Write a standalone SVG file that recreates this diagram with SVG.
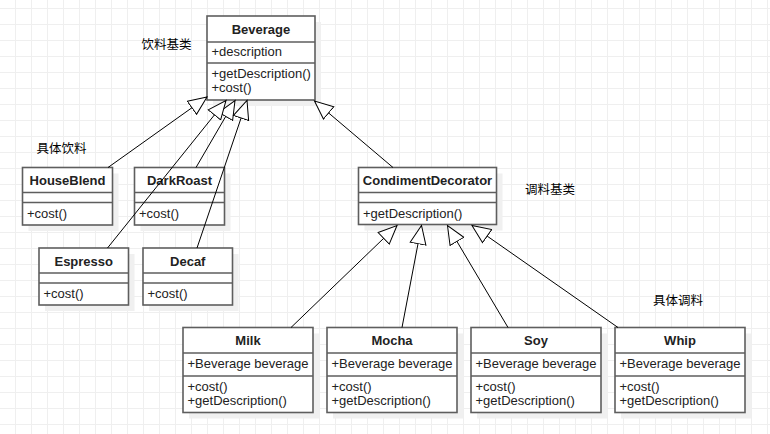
<svg xmlns="http://www.w3.org/2000/svg" width="770" height="434" viewBox="0 0 770 434">
<defs>
  <pattern id="grid" patternUnits="userSpaceOnUse" x="15" y="8" width="16" height="16">
    <path d="M0.5,0 V16 M0,0.5 H16" fill="none" stroke="#efefef" stroke-width="1"/>
  </pattern>
  <marker id="ext" markerUnits="userSpaceOnUse" markerWidth="22" markerHeight="20" refX="19" refY="9" orient="auto">
    <path d="M0.5,1 L19,9 L0.5,17 Z" fill="#ffffff" stroke="#000000" stroke-width="1"/>
  </marker>
</defs>
<style>
  .shadow { fill: #f0f0f0; }
  .box { fill: #ffffff; stroke: #5e5e5e; stroke-width: 1.6; }
  .sep { stroke: #5e5e5e; stroke-width: 1.6; }
  .title { font-family: "Liberation Sans", Arial, sans-serif; font-size: 13px; font-weight: bold; fill: #222222; text-anchor: middle; }
  .member { font-family: "Liberation Sans", Arial, sans-serif; font-size: 13px; fill: #222222; }
  .note { font-family: "Liberation Sans", "Noto Sans CJK SC", sans-serif; font-size: 12.5px; fill: #000000; }
  .conn { stroke: #000000; stroke-width: 1; fill: none; marker-end: url(#ext); }
</style>
<rect x="0" y="0" width="770" height="434" fill="#ffffff"/>
<rect x="0" y="0" width="770" height="434" fill="url(#grid)"/>

<g id="Beverage">
  <rect class="shadow" x="213" y="22" width="108" height="84"/>
  <rect class="box" x="207" y="16" width="108" height="84"/>
  <line class="sep" x1="207" y1="42" x2="315" y2="42"/>
  <line class="sep" x1="207" y1="63" x2="315" y2="63"/>
  <text class="title" x="261" y="33.5">Beverage</text>
  <text class="member" x="211.5" y="55.5">+description</text>
  <text class="member" x="211.5" y="77.5">+getDescription()</text>
  <text class="member" x="211.5" y="91.5">+cost()</text>
</g>

<g id="HouseBlend">
  <rect class="shadow" x="28.5" y="173.5" width="90" height="57.5"/>
  <rect class="box" x="22.5" y="167.5" width="90" height="57.5"/>
  <line class="sep" x1="22.5" y1="192.5" x2="112.5" y2="192.5"/>
  <line class="sep" x1="22.5" y1="202.5" x2="112.5" y2="202.5"/>
  <text class="title" x="67.5" y="185">HouseBlend</text>
  <text class="member" x="27" y="218">+cost()</text>
</g>

<g id="DarkRoast">
  <rect class="shadow" x="140.5" y="173.5" width="90" height="57.5"/>
  <rect class="box" x="134.5" y="167.5" width="90" height="57.5"/>
  <line class="sep" x1="134.5" y1="192.5" x2="224.5" y2="192.5"/>
  <line class="sep" x1="134.5" y1="202.5" x2="224.5" y2="202.5"/>
  <text class="title" x="179.5" y="185">DarkRoast</text>
  <text class="member" x="139" y="218">+cost()</text>
</g>

<g id="Espresso">
  <rect class="shadow" x="45" y="254" width="89.5" height="57"/>
  <rect class="box" x="39" y="248" width="89.5" height="57"/>
  <line class="sep" x1="39" y1="273" x2="128.5" y2="273"/>
  <line class="sep" x1="39" y1="283" x2="128.5" y2="283"/>
  <text class="title" x="83.75" y="265.5">Espresso</text>
  <text class="member" x="43.5" y="298">+cost()</text>
</g>

<g id="Decaf">
  <rect class="shadow" x="149" y="254" width="89.5" height="57"/>
  <rect class="box" x="143" y="248" width="89.5" height="57"/>
  <line class="sep" x1="143" y1="273" x2="232.5" y2="273"/>
  <line class="sep" x1="143" y1="283" x2="232.5" y2="283"/>
  <text class="title" x="187.75" y="265.5">Decaf</text>
  <text class="member" x="147.5" y="298">+cost()</text>
</g>

<g id="CondimentDecorator">
  <rect class="shadow" x="364.5" y="173.5" width="138" height="57"/>
  <rect class="box" x="358.5" y="167.5" width="138" height="57"/>
  <line class="sep" x1="358.5" y1="192.5" x2="496.5" y2="192.5"/>
  <line class="sep" x1="358.5" y1="202.5" x2="496.5" y2="202.5"/>
  <text class="title" x="427.5" y="185">CondimentDecorator</text>
  <text class="member" x="363" y="217.5">+getDescription()</text>
</g>

<g id="Milk">
  <rect class="shadow" x="189" y="333.5" width="130" height="85"/>
  <rect class="box" x="183" y="327.5" width="130" height="85"/>
  <line class="sep" x1="183" y1="353" x2="313" y2="353"/>
  <line class="sep" x1="183" y1="376" x2="313" y2="376"/>
  <text class="title" x="248" y="345">Milk</text>
  <text class="member" x="187.5" y="368">+Beverage beverage</text>
  <text class="member" x="187.5" y="391">+cost()</text>
  <text class="member" x="187.5" y="405">+getDescription()</text>
</g>

<g id="Mocha">
  <rect class="shadow" x="333" y="333.5" width="130" height="85"/>
  <rect class="box" x="327" y="327.5" width="130" height="85"/>
  <line class="sep" x1="327" y1="353" x2="457" y2="353"/>
  <line class="sep" x1="327" y1="376" x2="457" y2="376"/>
  <text class="title" x="392" y="345">Mocha</text>
  <text class="member" x="331.5" y="368">+Beverage beverage</text>
  <text class="member" x="331.5" y="391">+cost()</text>
  <text class="member" x="331.5" y="405">+getDescription()</text>
</g>

<g id="Soy">
  <rect class="shadow" x="477" y="333.5" width="130" height="85"/>
  <rect class="box" x="471" y="327.5" width="130" height="85"/>
  <line class="sep" x1="471" y1="353" x2="601" y2="353"/>
  <line class="sep" x1="471" y1="376" x2="601" y2="376"/>
  <text class="title" x="536" y="345">Soy</text>
  <text class="member" x="475.5" y="368">+Beverage beverage</text>
  <text class="member" x="475.5" y="391">+cost()</text>
  <text class="member" x="475.5" y="405">+getDescription()</text>
</g>

<g id="Whip">
  <rect class="shadow" x="621" y="333.5" width="130" height="85"/>
  <rect class="box" x="615" y="327.5" width="130" height="85"/>
  <line class="sep" x1="615" y1="353" x2="745" y2="353"/>
  <line class="sep" x1="615" y1="376" x2="745" y2="376"/>
  <text class="title" x="680" y="345">Whip</text>
  <text class="member" x="619.5" y="368">+Beverage beverage</text>
  <text class="member" x="619.5" y="391">+cost()</text>
  <text class="member" x="619.5" y="405">+getDescription()</text>
</g>

<g id="labels">
  <text class="note" x="141.5" y="49">饮料基类</text>
  <text class="note" x="36.5" y="153">具体饮料</text>
  <text class="note" x="525" y="193.5">调料基类</text>
  <text class="note" x="653" y="305">具体调料</text>
</g>

<g id="connectors">
  <line class="conn" x1="108" y1="167.5" x2="207" y2="97"/>
  <line class="conn" x1="196" y1="167.5" x2="235" y2="100.5"/>
  <line class="conn" x1="107.5" y1="248" x2="226" y2="100.5"/>
  <line class="conn" x1="197" y1="248" x2="247" y2="100.5"/>
  <line class="conn" x1="393" y1="167.5" x2="314.5" y2="101"/>
  <line class="conn" x1="291" y1="327.5" x2="397" y2="225.5"/>
  <line class="conn" x1="402" y1="327.5" x2="421.5" y2="225.5"/>
  <line class="conn" x1="508" y1="327.5" x2="447.5" y2="225.5"/>
  <line class="conn" x1="618" y1="327.5" x2="472" y2="225.5"/>
</g>
</svg>
